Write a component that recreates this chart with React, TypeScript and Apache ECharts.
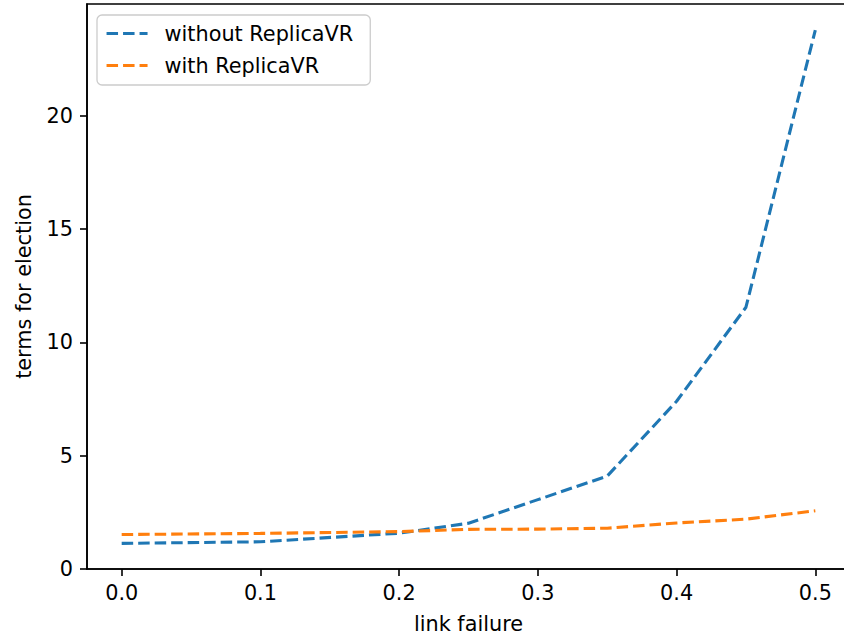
import React, { useEffect, useRef } from "react";
import * as echarts from "echarts";

const xValues = [0, 0.1, 0.2, 0.25, 0.3, 0.35, 0.4, 0.45, 0.5];
const withoutReplica = [1.13, 1.2, 1.58, 2.02, 3.06, 4.1, 7.4, 11.55, 23.78];
const withReplica = [1.52, 1.57, 1.65, 1.75, 1.76, 1.8, 2.03, 2.2, 2.57];
const xTicks = [0, 0.1, 0.2, 0.3, 0.4, 0.5];
const yTicks = [0, 5, 10, 15, 20];
const seriesNames = ["without ReplicaVR", "with ReplicaVR"];

const FONT = "DejaVu Sans";
const FS = 20.8;

export default function App() {
  const ref = useRef<HTMLDivElement>(null);
  useEffect(() => {
    if (!ref.current) return;
    const chart = echarts.init(ref.current, undefined, { renderer: "svg" });
    const mk = (ys: number[]) => xValues.map((x, i) => [x, ys[i]]);
    const axisLine = { show: true, onZero: false, lineStyle: { color: "#000", width: 1.6 } };
    const tick = (vals: number[]) => ({
      show: true,
      inside: false,
      length: 7,
      lineStyle: { color: "#000", width: 1.6 },
      customValues: vals,
    });
    chart.setOption({
      animation: false,
      backgroundColor: "#ffffff",
      grid: {
        left: 87,
        top: 4,
        right: 0,
        bottom: 69,
        show: true,
        borderColor: "#000",
        borderWidth: 1.6,
        backgroundColor: "transparent",
      },
      legend: {
        orient: "vertical",
        left: 97,
        top: 15,
        data: seriesNames,
        itemWidth: 41,
        itemHeight: 14,
        itemGap: 11,
        padding: [8, 17, 9, 8],
        borderColor: "#cccccc",
        borderWidth: 1.3,
        borderRadius: 5,
        backgroundColor: "rgba(255,255,255,0.8)",
        itemStyle: { opacity: 0 },
        lineStyle: { width: 3.1 },
        textStyle: {
          fontFamily: FONT,
          fontSize: FS,
          lineHeight: 21,
          color: "#000",
          padding: [0, 0, 0, 12],
        },
      },
      xAxis: {
        type: "value",
        min: -0.025,
        max: 0.525,
        name: "link failure",
        nameLocation: "middle",
        nameGap: 44,
        nameTextStyle: { fontFamily: FONT, fontSize: FS, color: "#000" },
        axisLine,
        axisTick: tick(xTicks),
        axisLabel: {
          fontFamily: FONT,
          fontSize: FS,
          color: "#000",
          margin: 13,
          customValues: xTicks,
          formatter: (v: number) => v.toFixed(1),
        },
        splitLine: { show: false },
      },
      yAxis: {
        type: "value",
        min: 0,
        max: 24.93,
        name: "terms for election",
        nameLocation: "middle",
        nameGap: 53,
        nameRotate: 90,
        nameTextStyle: { fontFamily: FONT, fontSize: FS, color: "#000" },
        axisLine,
        axisTick: tick(yTicks),
        axisLabel: {
          fontFamily: FONT,
          fontSize: FS,
          color: "#000",
          margin: 14,
          customValues: yTicks,
        },
        splitLine: { show: false },
      },
      series: [
        {
          name: seriesNames[0],
          type: "line",
          data: mk(withoutReplica),
          symbol: "none",
          color: "#1f77b4",
          lineStyle: { color: "#1f77b4", width: 3.1, type: [11.5, 5] },
        },
        {
          name: seriesNames[1],
          type: "line",
          data: mk(withReplica),
          symbol: "none",
          color: "#ff7f0e",
          lineStyle: { color: "#ff7f0e", width: 3.1, type: [11.5, 5] },
        },
      ],
    });
    return () => chart.dispose();
  }, []);
  return (
    <div
      ref={ref}
      style={{ position: "fixed", left: 0, top: 0, width: 850, height: 639 }}
    />
  );
}
